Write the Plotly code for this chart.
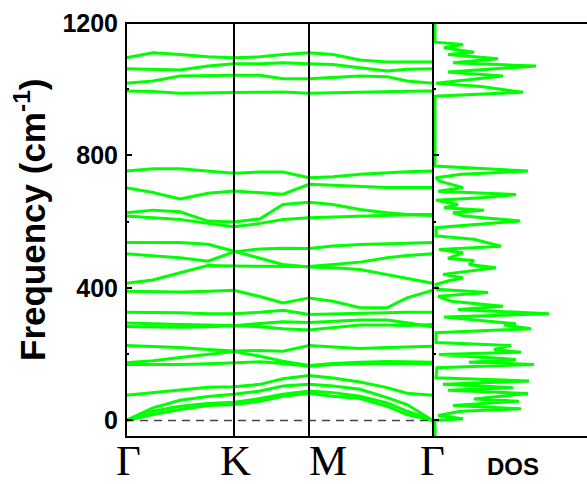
import plotly.graph_objects as go

# ---- data ----
kpath = [0, 27, 54, 82, 108, 134, 157, 183, 207, 234, 261, 281, 307]
sym_pos = [0, 108, 183, 307]
sym_labels = ["Γ", "K", "M", "Γ"]

bands = {
    "A": [1095, 1110, 1105, 1098, 1095, 1098, 1105, 1110, 1105, 1088, 1082, 1082, 1082],
    "B": [1062, 1060, 1058, 1070, 1077, 1077, 1080, 1077, 1075, 1065, 1055, 1060, 1062],
    "C": [1018, 1025, 1040, 1042, 1042, 1042, 1032, 1032, 1035, 1040, 1038, 1025, 1018],
    "D": [995, 993, 988, 990, 990, 991, 992, 988, 990, 992, 993, 994, 995],
    "E": [753, 760, 760, 753, 746, 750, 750, 733, 736, 743, 748, 751, 753],
    "F": [703, 688, 669, 686, 693, 688, 683, 713, 710, 708, 703, 703, 703],
    "G": [627, 635, 630, 602, 599, 609, 652, 659, 652, 637, 627, 622, 622],
    "H": [617, 612, 607, 595, 585, 595, 607, 612, 614, 617, 619, 621, 619],
    "I1": [537, 537, 537, 532, 511, 491, 471, 463, 461, 456, 441, 428, 414],
    "I2": [503, 498, 491, 481, 509, 518, 520, 519, 527, 531, 534, 536, 537],
    "I3": [414, 424, 446, 468, 466, 466, 466, 465, 471, 478, 491, 498, 503],
    "J": [390, 388, 388, 390, 393, 374, 355, 370, 360, 340, 340, 370, 393],
    "K1": [327, 327, 325, 322, 322, 327, 333, 320, 322, 325, 327, 327, 327],
    "L1": [294, 293, 290, 288, 286, 293, 298, 296, 300, 303, 303, 295, 282],
    "L2": [284, 282, 281, 283, 286, 283, 277, 273, 280, 288, 288, 287, 290],
    "M1": [226, 224, 220, 214, 210, 211, 209, 226, 222, 217, 220, 222, 224],
    "N1": [174, 180, 190, 200, 208, 194, 179, 166, 172, 176, 178, 177, 176],
    "N2": [169, 168, 169, 171, 174, 177, 172, 164, 169, 172, 173, 172, 172],
    "O": [76, 84, 93, 100, 102, 109, 126, 136, 128, 116, 99, 82, 76],
    "P1": [0, 38, 61, 72, 79, 89, 104, 109, 104, 94, 69, 48, 0],
    "P2": [0, 28, 43, 51, 55, 66, 79, 89, 84, 73, 53, 28, 0],
    "P3": [0, 18, 33, 45, 48, 58, 73, 82, 73, 66, 43, 18, 0],
}

dos_freq = [-50, 0, 5, 15, 28, 35, 45, 58, 65, 81, 91, 99, 109, 119, 129, 159, 169, 176, 184, 199,
            206, 214, 226, 235, 265, 277, 288, 292, 312, 322, 335, 345, 360, 375, 386, 396, 411, 421, 431, 441,
            461, 471, 483, 489, 506, 516, 526, 547, 557, 582, 602, 607, 617, 627, 635, 642, 652, 665, 672, 682,
            692, 703, 723, 733, 743, 753, 768, 979, 991, 1008, 1018, 1025, 1040, 1052, 1060, 1070, 1080, 1092, 1105, 1112,
            1125, 1135, 1142, 1200]
dos_val = [0, 0, 28, 3, 26, 86, 18, 84, 39, 93, 13, 78, 8, 94, 1, 2, 99, 34, 81, 4,
           86, 59, 76, 1, 1, 96, 69, 81, 9, 114, 23, 68, 16, 3, 53, 2, 1, 13, 28, 8,
           61, 34, 39, 13, 28, 4, 66, 39, 1, 1, 85, 69, 29, 18, 49, 9, 23, 1, 46, 81,
           3, 28, 4, 1, 26, 93, 0, 0, 88, 46, 1, 21, 68, 13, 48, 101, 18, 63, 13, 39,
           9, 28, 0, 0]

y_ticks = [0, 400, 800, 1200]
y_range = [-50, 1200]

# ---- layout geometry (pixels) ----
W, H = 587, 484
ML, MR, MT, MB = 126, 0, 23, 47
PW = W - ML - MR
PH = H - MT - MB
split = (433 - ML) / PW

def px(xp):
    return (xp - ML) / PW

def py(yp):
    return (H - MB - yp) / PH

GREEN = "#00ff00"
fig = go.Figure()

for name, vals in bands.items():
    fig.add_trace(go.Scatter(x=kpath, y=vals, mode="lines",
                             line=dict(color=GREEN, width=3),
                             xaxis="x", yaxis="y", showlegend=False, hoverinfo="skip"))

# zero-frequency dashed line
fig.add_trace(go.Scatter(x=[kpath[0], kpath[-1]], y=[0, 0], mode="lines",
                         line=dict(color="#444444", width=1.5, dash="8px,6px"),
                         xaxis="x", yaxis="y", showlegend=False, hoverinfo="skip"))

# DOS
fig.add_trace(go.Scatter(x=dos_val, y=dos_freq, mode="lines",
                         line=dict(color=GREEN, width=3),
                         xaxis="x2", yaxis="y2", showlegend=False, hoverinfo="skip"))

shapes = []
# white strip at the far right edge (the reference shows no right border)
shapes.append(dict(type="rect", xref="paper", yref="paper", x0=px(581), x1=1.05, y0=-0.05, y1=1.05,
                   fillcolor="white", line=dict(width=0), layer="above"))
# high-symmetry vertical lines
for p in sym_pos[1:-1]:
    shapes.append(dict(type="line", xref="x", yref="y domain", x0=p, x1=p, y0=0, y1=1,
                       line=dict(color="black", width=2)))
# left panel frame
shapes.append(dict(type="rect", xref="x domain", yref="y domain", x0=0, x1=1, y0=0, y1=1,
                   line=dict(color="black", width=2), layer="above"))
# DOS panel: top and bottom edges only, running to the page edge
for yy in (0, 1):
    shapes.append(dict(type="line", xref="paper", yref="y2 domain", x0=split, x1=1.01, y0=yy, y1=yy,
                       line=dict(color="black", width=2), layer="above"))

annotations = []
label_px = [128, 235, 328, 432]
for lab, xp in zip(sym_labels, label_px):
    annotations.append(dict(text=lab, xref="paper", yref="paper", x=px(xp), y=py(460),
                            xanchor="center", yanchor="middle", showarrow=False,
                            font=dict(family="Liberation Serif, Times New Roman, serif", size=43, color="black")))
annotations.append(dict(text="<b>DOS</b>", xref="paper", yref="paper", x=px(513), y=py(466),
                        xanchor="center", yanchor="middle", showarrow=False,
                        font=dict(family="Liberation Sans, Arial, sans-serif", size=24, color="black")))
annotations.append(dict(text="<b>Frequency (cm<sup>-1</sup>)</b>", xref="paper", yref="paper",
                        x=px(30), y=py(220), xanchor="center", yanchor="middle", showarrow=False,
                        textangle=-90,
                        font=dict(family="Liberation Sans, Arial, sans-serif", size=35, color="black")))

fig.update_layout(
    width=W, height=H,
    margin=dict(l=ML, r=MR, t=MT, b=MB, pad=0),
    paper_bgcolor="white", plot_bgcolor="white",
    xaxis=dict(domain=[0, split], range=[kpath[0], kpath[-1]], showgrid=False, zeroline=False,
               showline=False, showticklabels=False, ticks=""),
    yaxis=dict(range=y_range, tickvals=y_ticks, showgrid=False, zeroline=False,
               showline=False,
               ticks="inside", ticklen=6, tickwidth=2, tickcolor="black",
               minor=dict(ticks="inside", dtick=200, tick0=0, ticklen=3, tickwidth=2, tickcolor="black"),
               tickfont=dict(family="Liberation Sans, Arial, sans-serif", size=25, color="black", weight="bold"),
               ticklabelstandoff=7),
    xaxis2=dict(domain=[split, 1], range=[-2, 152], anchor="y2", showgrid=False, zeroline=False,
                showline=False, showticklabels=False, ticks=""),
    yaxis2=dict(range=y_range, anchor="x2", tickvals=y_ticks, showgrid=False, zeroline=False,
                showline=False,
                ticks="inside", ticklen=6, tickwidth=2, tickcolor="black",
                minor=dict(ticks="inside", dtick=200, tick0=0, ticklen=3, tickwidth=2, tickcolor="black"),
                showticklabels=False),
    shapes=shapes, annotations=annotations,
)

fig.write_html("out.html")
